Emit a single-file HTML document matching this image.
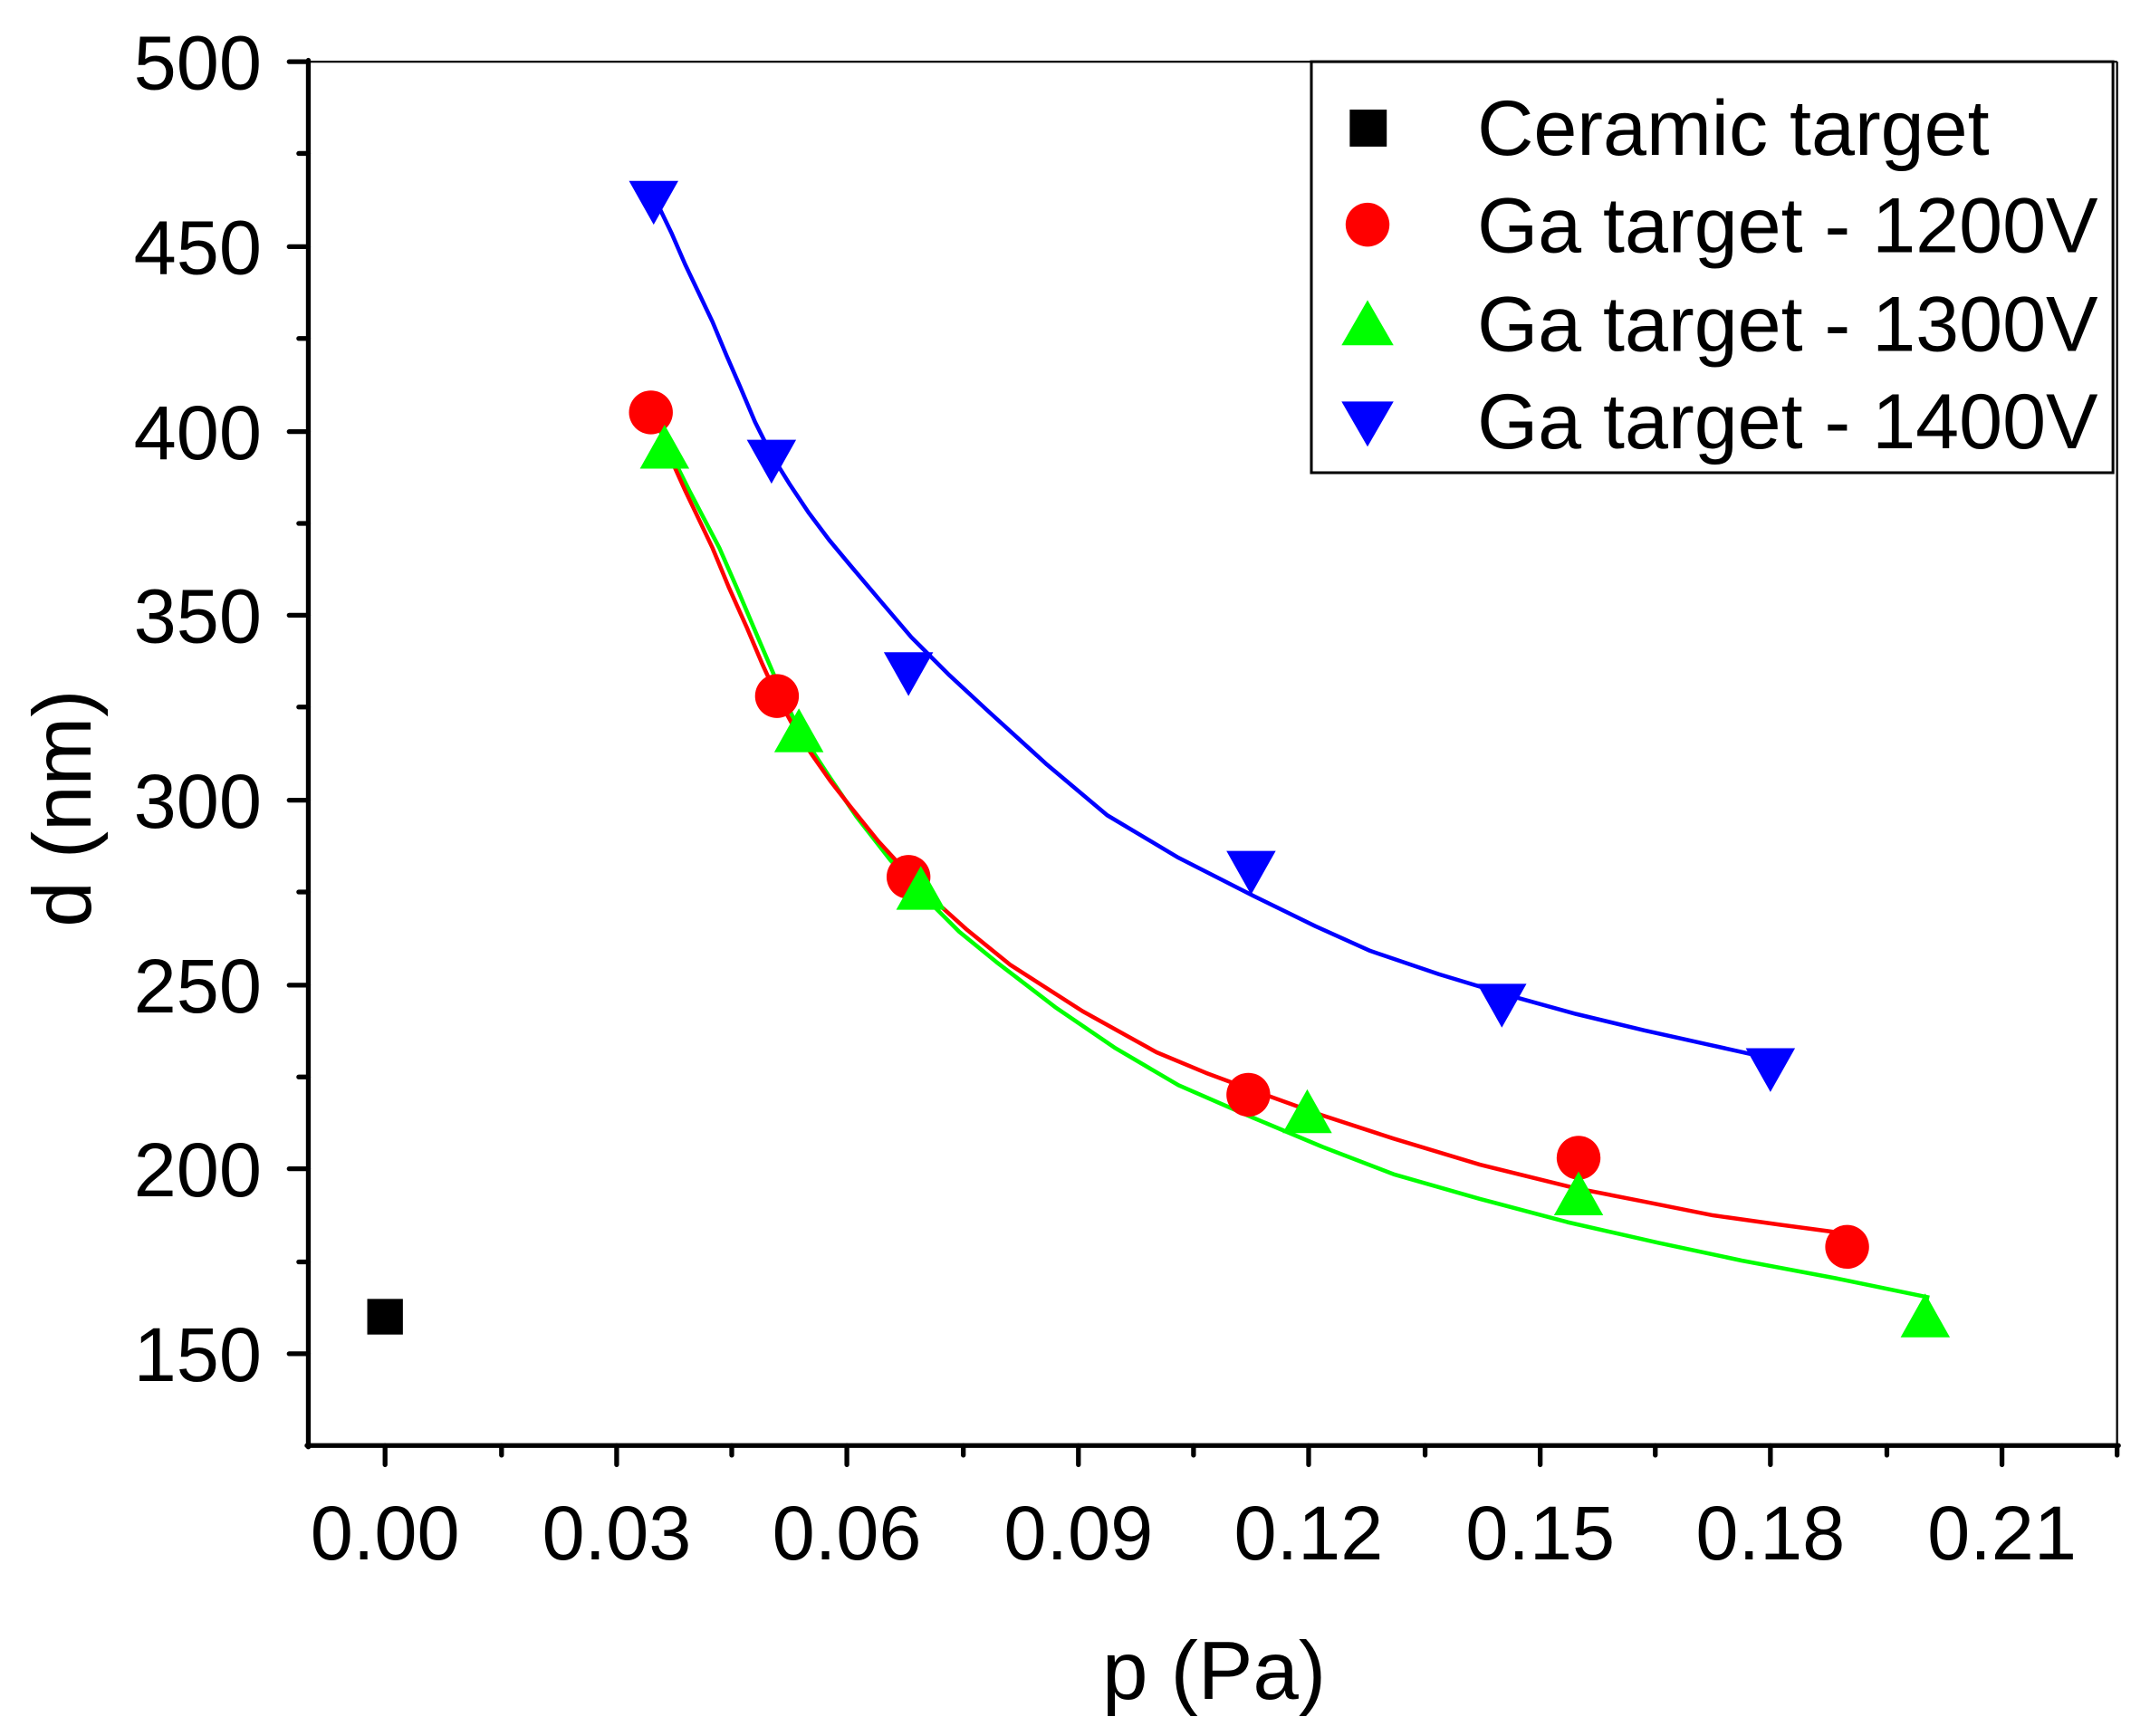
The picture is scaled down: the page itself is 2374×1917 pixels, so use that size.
<!DOCTYPE html>
<html><head><meta charset="utf-8"><style>html,body{margin:0;padding:0;background:#fff}svg{display:block}</style></head>
<body>
<svg width="2374" height="1917" viewBox="0 0 1569 1267" xmlns="http://www.w3.org/2000/svg" font-family="Liberation Sans, sans-serif">
<rect width="1569" height="1267" fill="#fff"/>
<g stroke="#000" stroke-width="1.5" fill="none">
<line x1="225" y1="45" x2="1545" y2="45"/>
<line x1="1545" y1="45" x2="1545" y2="1055"/>
</g>
<g stroke="#000" stroke-width="3.5" fill="none" stroke-linecap="round">
<line x1="225" y1="44" x2="225" y2="1056"/>
<line x1="224" y1="1055" x2="1546" y2="1055"/>
<path d="M211 45H225M211 180H225M211 315H225M211 449H225M211 584H225M211 719H225M211 853H225M211 988H225"/>
<path d="M218 112H225M218 247H225M218 382H225M218 516H225M218 651H225M218 786H225M218 921H225"/>
<path d="M281 1055V1069M450 1055V1069M618 1055V1069M787 1055V1069M955 1055V1069M1124 1055V1069M1292 1055V1069M1461 1055V1069"/>
<path d="M366 1055V1062M534 1055V1062M703 1055V1062M871 1055V1062M1040 1055V1062M1208 1055V1062M1377 1055V1062M1545 1055V1062"/>
</g>
<g font-size="56" text-anchor="end" fill="#000">
<text x="191" y="65">500</text><text x="191" y="200">450</text><text x="191" y="335">400</text><text x="191" y="469">350</text><text x="191" y="604">300</text><text x="191" y="739">250</text><text x="191" y="873">200</text><text x="191" y="1008">150</text>
</g>
<g font-size="56" text-anchor="middle" fill="#000">
<text x="281" y="1138">0.00</text><text x="450" y="1138">0.03</text><text x="618" y="1138">0.06</text><text x="787" y="1138">0.09</text><text x="955" y="1138">0.12</text><text x="1124" y="1138">0.15</text><text x="1292" y="1138">0.18</text><text x="1461" y="1138">0.21</text>
</g>
<text x="886" y="1240" font-size="60" text-anchor="middle">p (Pa)</text>
<text transform="translate(66,590) rotate(-90)" font-size="60" text-anchor="middle">d (nm)</text>
<g fill="none" stroke-width="3" stroke-linejoin="round">
<polyline stroke="#0000ff" points="477,143 490,170 500,193 510,214 520,235 530,259 540,282 551,308 563,332 576,353 590,374 605,394 620,412 642,438 665,465 692,492 720,518 764,558 808,595 860,626 915,654 960,676 1000,694 1050,711 1103,727 1150,740 1200,752 1245,762 1290,772"/>
<polyline stroke="#00ff00" points="482,315 492,336 503,358 514,379 525,400 539,432 553,465 568,500 583,533 604,565 625,596 650,628 676,656 700,680 727,702 770,735 814,765 860,792 915,816 965,837 1017,857 1080,875 1144,892 1210,907 1271,920 1340,933 1408,947"/>
<polyline stroke="#ff0000" points="482,318 491,338 500,358 510,379 520,400 532,429 545,458 556,484 567,508 579,530 592,550 606,570 620,588 641,614 663,638 676,652 705,678 737,704 790,738 844,768 880,783 915,796 965,814 1017,831 1080,850 1149,867 1200,877 1250,887 1300,894 1345,900"/>
</g>
<rect x="268" y="948" width="26" height="26" fill="#000"/>
<g fill="#ff0000">
<circle cx="475" cy="301" r="16"/><circle cx="567" cy="508" r="16"/><circle cx="663" cy="640" r="16"/><circle cx="911" cy="799" r="16"/><circle cx="1152" cy="845" r="16"/><circle cx="1348" cy="910" r="16"/>
</g>
<g fill="#00ff00">
<path d="M485 310l18 32h-36z"/><path d="M583 517l18 32h-36z"/><path d="M672 632l18 32h-36z"/><path d="M954 795l18 32h-36z"/><path d="M1152 855l18 32h-36z"/><path d="M1405 944l18 32h-36z"/>
</g>
<g fill="#0000ff">
<path d="M459 132h36l-18 32z"/><path d="M545 321h36l-18 32z"/><path d="M645 476h36l-18 32z"/><path d="M895 621h36l-18 32z"/><path d="M1078 718h36l-18 32z"/><path d="M1274 765h36l-18 32z"/>
</g>
<rect x="957" y="45" width="585" height="300" fill="#fff" stroke="#000" stroke-width="2"/>
<rect x="985" y="80" width="27" height="27" fill="#000"/>
<circle cx="998" cy="164" r="16" fill="#ff0000"/>
<path d="M998 219l19 33h-38z" fill="#00ff00"/>
<path d="M979 293h38l-19 33z" fill="#0000ff"/>
<g font-size="57" fill="#000">
<text x="1078" y="113">Ceramic target</text>
<text x="1078" y="184">Ga target - 1200V</text>
<text x="1078" y="256">Ga target - 1300V</text>
<text x="1078" y="327">Ga target - 1400V</text>
</g>
</svg>
</body></html>
